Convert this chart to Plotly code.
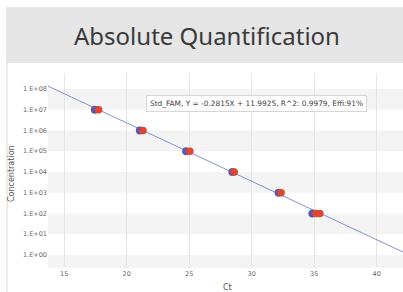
import plotly.graph_objects as go

# ---- data ----
title_text = "Absolute Quantification"
x_title = "Ct"
y_title = "Concentration"
fit_label = "Std_FAM, Y = -0.2815X + 11.9925, R^2: 0.9979, Effi:91%"
slope = -0.2815
intercept = 11.9925

conc_blue = [1e7, 1e6, 1e5, 1e4, 1e3, 1e2]
ct_blue = [17.45, 21.05, 24.75, 28.45, 32.15, 34.85]
conc_red = [1e7, 1e6, 1e5, 1e4, 1e3, 1e2, 1e2]
ct_red = [17.75, 21.3, 25.05, 28.6, 32.35, 35.15, 35.45]

x_ticks = [15, 20, 25, 30, 35, 40]
y_tick_vals = [1e0, 1e1, 1e2, 1e3, 1e4, 1e5, 1e6, 1e7, 1e8]
y_tick_text = ["1.E+00", "1.E+01", "1.E+02", "1.E+03", "1.E+04",
               "1.E+05", "1.E+06", "1.E+07", "1.E+08"]
x_range = [13.7, 42.1]
y_range_log = [-0.63, 8.77]

# ---- layout constants (pixels) ----
W, H = 403, 292
ML, MR, MT, MB = 48, 0, 73, 24
PW, PH = W - ML - MR, H - MT - MB

def px_x(px):
    return (px - ML) / PW

def px_y(py):
    return (H - MB - py) / PH

fit_x = x_range
fit_y = [10 ** (slope * x + intercept) for x in fit_x]

fig = go.Figure()

fig.add_trace(go.Scatter(
    x=fit_x, y=fit_y, mode="lines",
    line=dict(color="#8193d3", width=1), hoverinfo="skip", showlegend=False))
fig.add_trace(go.Scatter(
    x=ct_blue, y=conc_blue, mode="markers",
    marker=dict(color="#5a58b0", size=8, line=dict(width=0)), showlegend=False))
fig.add_trace(go.Scatter(
    x=ct_red, y=conc_red, mode="markers",
    marker=dict(color="#e2452e", size=7.5, line=dict(width=0)), showlegend=False))

shapes = []
# alternating bands
lo = 10 ** y_range_log[0]
band_edges = [(lo, 1e0), (1e1, 1e2), (1e3, 1e4), (1e5, 1e6), (1e7, 1e8)]
for a, b in band_edges:
    shapes.append(dict(type="rect", xref="paper", yref="y", x0=0, x1=1, y0=a, y1=b,
                       fillcolor="#f4f4f4", line=dict(width=0), layer="below"))
# header band
shapes.append(dict(type="rect", xref="paper", yref="paper",
                   x0=px_x(6), x1=px_x(W + 2), y0=px_y(63), y1=px_y(7),
                   fillcolor="#e6e6e7", line=dict(width=0), layer="below"))
# left border of panel
shapes.append(dict(type="line", xref="paper", yref="paper",
                   x0=px_x(7), x1=px_x(7), y0=px_y(63), y1=px_y(H + 2),
                   line=dict(color="#d8d8d8", width=1)))

annotations = [
    dict(text=title_text, xref="paper", yref="paper", x=px_x(207), y=px_y(35),
         xanchor="center", yanchor="middle", showarrow=False,
         font=dict(family="Noto Sans", size=24, color="#3a3a3a")),
    dict(text=fit_label, xref="paper", yref="paper", x=px_x(256), y=px_y(103),
         xanchor="center", yanchor="middle", showarrow=False,
         font=dict(family="DejaVu Sans", size=7.4, color="#444444"),
         bgcolor="white", bordercolor="#d6d6d6", borderwidth=1, borderpad=3),
    dict(text=y_title, xref="paper", yref="paper", x=px_x(11), y=px_y(174),
         xanchor="center", yanchor="middle", showarrow=False, textangle=-90,
         font=dict(family="DejaVu Sans", size=8, color="#555555")),
    dict(text=x_title, xref="paper", yref="paper", x=px_x(227), y=px_y(287),
         xanchor="center", yanchor="middle", showarrow=False,
         font=dict(family="DejaVu Sans", size=8, color="#555555")),
]

fig.update_layout(
    width=W, height=H,
    margin=dict(l=ML, r=MR, t=MT, b=MB),
    paper_bgcolor="white", plot_bgcolor="white",
    shapes=shapes, annotations=annotations, showlegend=False,
    xaxis=dict(range=x_range, tickvals=x_ticks, showgrid=True, gridcolor="#e4e4e4",
               gridwidth=1, zeroline=False, showline=False, ticks="",
               tickfont=dict(family="DejaVu Sans", size=6.5, color="#666666")),
    yaxis=dict(type="log", range=y_range_log, tickvals=y_tick_vals, ticktext=y_tick_text,
               showgrid=False, zeroline=False, showline=False, ticks="",
               tickfont=dict(family="DejaVu Sans", size=6.5, color="#666666")),
)

fig.write_html("out.html", config={"displayModeBar": False},
               post_script="document.body.style.margin='0';document.body.style.overflow='hidden';")
